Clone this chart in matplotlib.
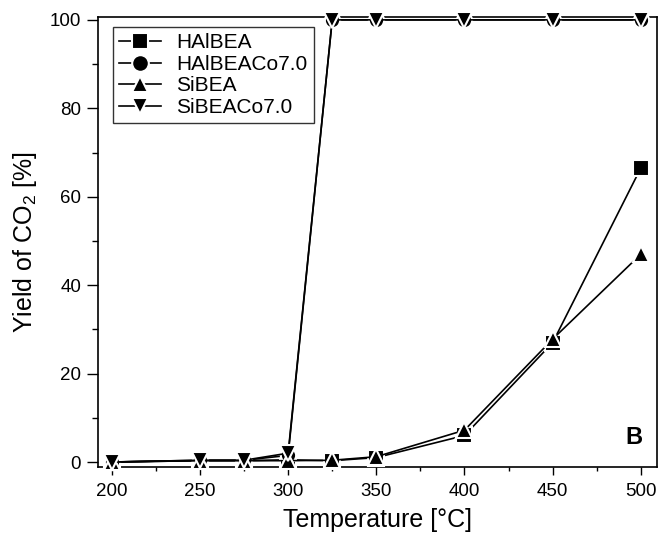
import matplotlib.pyplot as plt
from matplotlib.ticker import MultipleLocator

plt.rcParams['font.family'] = ['Liberation Sans', 'DejaVu Sans']
plt.rcParams['mathtext.fontset'] = 'custom'
plt.rcParams['mathtext.rm'] = 'Liberation Sans'
plt.rcParams['mathtext.it'] = 'Liberation Sans:italic'

# Temperatura [°C]
temperatura = [200, 250, 275, 300, 325, 350, 400, 450, 500]

# Wydajność CO2 [%]
halbea = [0.0, 0.3, 0.3, 0.5, 0.3, 1.0, 6.0, 27.0, 66.5]
halbea_co = [0.0, 0.4, 0.4, 1.5, 100.0, 100.0, 100.0, 100.0, 100.0]
sibea = [0.0, 0.3, 0.3, 0.3, 0.4, 1.2, 7.2, 27.8, 47.0]
sibea_co = [0.0, 0.4, 0.4, 2.0, 100.0, 100.0, 100.0, 100.0, 100.0]

serie = [
    (halbea, 's', 'HAlBEA'),
    (halbea_co, 'o', 'HAlBEACo7.0'),
    (sibea, '^', 'SiBEA'),
    (sibea_co, 'v', 'SiBEACo7.0'),
]

fig = plt.figure(figsize=(6.6, 5.41), dpi=100)
ax = fig.add_axes([0.148, 0.137, 0.847, 0.832])

for y, m, nazwa in serie:
    ax.plot(temperatura, y, color='black', lw=1.2, marker=m, markersize=11,
            markerfacecolor='black', markeredgecolor='white', markeredgewidth=1.5,
            label=nazwa, clip_on=False, zorder=3)

ax.set_xlim(192, 509)
ax.set_ylim(-1.1, 100.7)
ax.xaxis.set_major_locator(MultipleLocator(50))
ax.xaxis.set_minor_locator(MultipleLocator(25))
ax.yaxis.set_major_locator(MultipleLocator(20))
ax.yaxis.set_minor_locator(MultipleLocator(10))
ax.tick_params(which='both', direction='out', width=1, labelsize=13.5)
ax.tick_params(axis='x', which='major', length=5.5, pad=6)
ax.tick_params(axis='x', which='minor', length=3)
ax.tick_params(axis='y', which='major', length=8, pad=4)
ax.tick_params(axis='y', which='minor', length=4)
for s in ax.spines.values():
    s.set_linewidth(1.2)

ax.set_xlabel('Temperature [°C]', fontsize=18, labelpad=6)
ax.set_ylabel('Yield of CO$_2$ [%]', fontsize=18, labelpad=8)

ax.text(0.975, 0.04, 'B', transform=ax.transAxes, fontsize=17,
        fontweight='bold', ha='right', va='bottom')

leg = ax.legend(loc='upper left', bbox_to_anchor=(0.027, 0.977), fontsize=15,
                frameon=True, fancybox=False, edgecolor='black',
                handlelength=2.0, handletextpad=0.75, borderaxespad=0,
                labelspacing=0.12, borderpad=0.3)
leg.get_frame().set_linewidth(1)
for h in leg.legend_handles:
    h.set_markeredgecolor('white')
    h.set_markersize(12)

fig.savefig('out.png', dpi=100)
